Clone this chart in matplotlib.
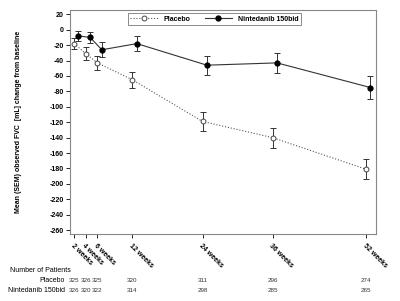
import numpy as np
import matplotlib
matplotlib.use('Agg')
import matplotlib.pyplot as plt
from matplotlib.lines import Line2D
from matplotlib.transforms import blended_transform_factory

plt.rcParams['font.family'] = ['Liberation Sans', 'DejaVu Sans']
plt.rcParams['axes.unicode_minus'] = False

weeks = [2, 4, 6, 12, 24, 36, 52]
week_labels = ['2 weeks', '4 weeks', '6 weeks', '12 weeks', '24 weeks', '36 weeks', '52 weeks']
placebo = [-18, -31, -43, -65, -119, -140, -181]
placebo_sem = [7, 8.5, 9, 10, 12, 13, 13]
ninted = [-8, -10, -26, -18, -46, -43, -75]
ninted_sem = [6.5, 7.5, 9.5, 10, 12.5, 13, 15]
n_placebo = [325, 326, 325, 320, 311, 296, 274]
n_ninted = [326, 320, 322, 314, 298, 285, 265]

fig = plt.figure(figsize=(4, 3.01), dpi=100)
ax = fig.add_axes([70/400, 1-234/301, 306/400, 224/301])

w = np.array(weeks, dtype=float)
ax.errorbar(w, placebo, yerr=placebo_sem, color='#555555', ls=':', lw=0.8,
            marker='o', mfc='white', mec='#444444', ms=3.5, mew=0.7,
            ecolor='#333333', elinewidth=0.7, capsize=2.5, capthick=0.7)
ax.errorbar(w + 0.75, ninted, yerr=ninted_sem, color='#333333', ls='-', lw=0.8,
            marker='o', mfc='black', mec='black', ms=3.5,
            ecolor='#333333', elinewidth=0.7, capsize=2.5, capthick=0.7)

ax.set_xlim(1.3, 53.7)
ax.set_ylim(-265, 25.6)
ax.set_yticks(np.arange(-260, 21, 20))
ax.tick_params(axis='y', labelsize=5, length=3, width=0.6, pad=1.5)
ax.set_xticks(weeks)
ax.set_xticklabels(week_labels, rotation=-45, ha='left', va='top',
                   rotation_mode='anchor', fontsize=5, fontweight='bold')
ax.tick_params(axis='x', length=3, width=0.6, pad=3)
for lab in ax.get_yticklabels():
    lab.set_fontweight('bold')
for s in ax.spines.values():
    s.set_color('#888888')
    s.set_linewidth(0.8)

ax.set_ylabel('Mean (SEM) observed FVC  [mL] change from baseline',
              fontsize=5, fontweight='bold', labelpad=20)

handles = [Line2D([], [], color='#555555', ls=':', lw=0.8, marker='o', mfc='white',
                  mec='#444444', ms=3.5, mew=0.7),
           Line2D([], [], color='#333333', ls='-', lw=0.8, marker='o', mfc='black',
                  mec='black', ms=3.5)]
leg = ax.legend(handles, ['Placebo', 'Nintedanib 150bid'], loc='upper right',
                bbox_to_anchor=(0.765, 1.0), ncol=2,
                fontsize=5, frameon=True, fancybox=False, handlelength=4,
                columnspacing=2.0, borderpad=0.3, handletextpad=0.8)
leg.get_frame().set_edgecolor('#555555')
leg.get_frame().set_linewidth(0.6)
for t in leg.get_texts():
    t.set_fontweight('bold')

tr = blended_transform_factory(ax.transData, fig.transFigure)
fig.text(10/400, 1-271/301, 'Number of Patients', fontsize=5, va='center')
fig.text(65/400, 1-281/301, 'Placebo', fontsize=5, va='center', ha='right')
fig.text(65/400, 1-290/301, 'Nintedanib 150bid', fontsize=5, va='center', ha='right')
for i, x in enumerate(weeks):
    ax.text(x, 1-281/301, str(n_placebo[i]), transform=tr, fontsize=4.5,
            ha='center', va='center', color='#333333')
    ax.text(x, 1-290/301, str(n_ninted[i]), transform=tr, fontsize=4.5,
            ha='center', va='center', color='#333333')

fig.savefig('out.png', dpi=100)
